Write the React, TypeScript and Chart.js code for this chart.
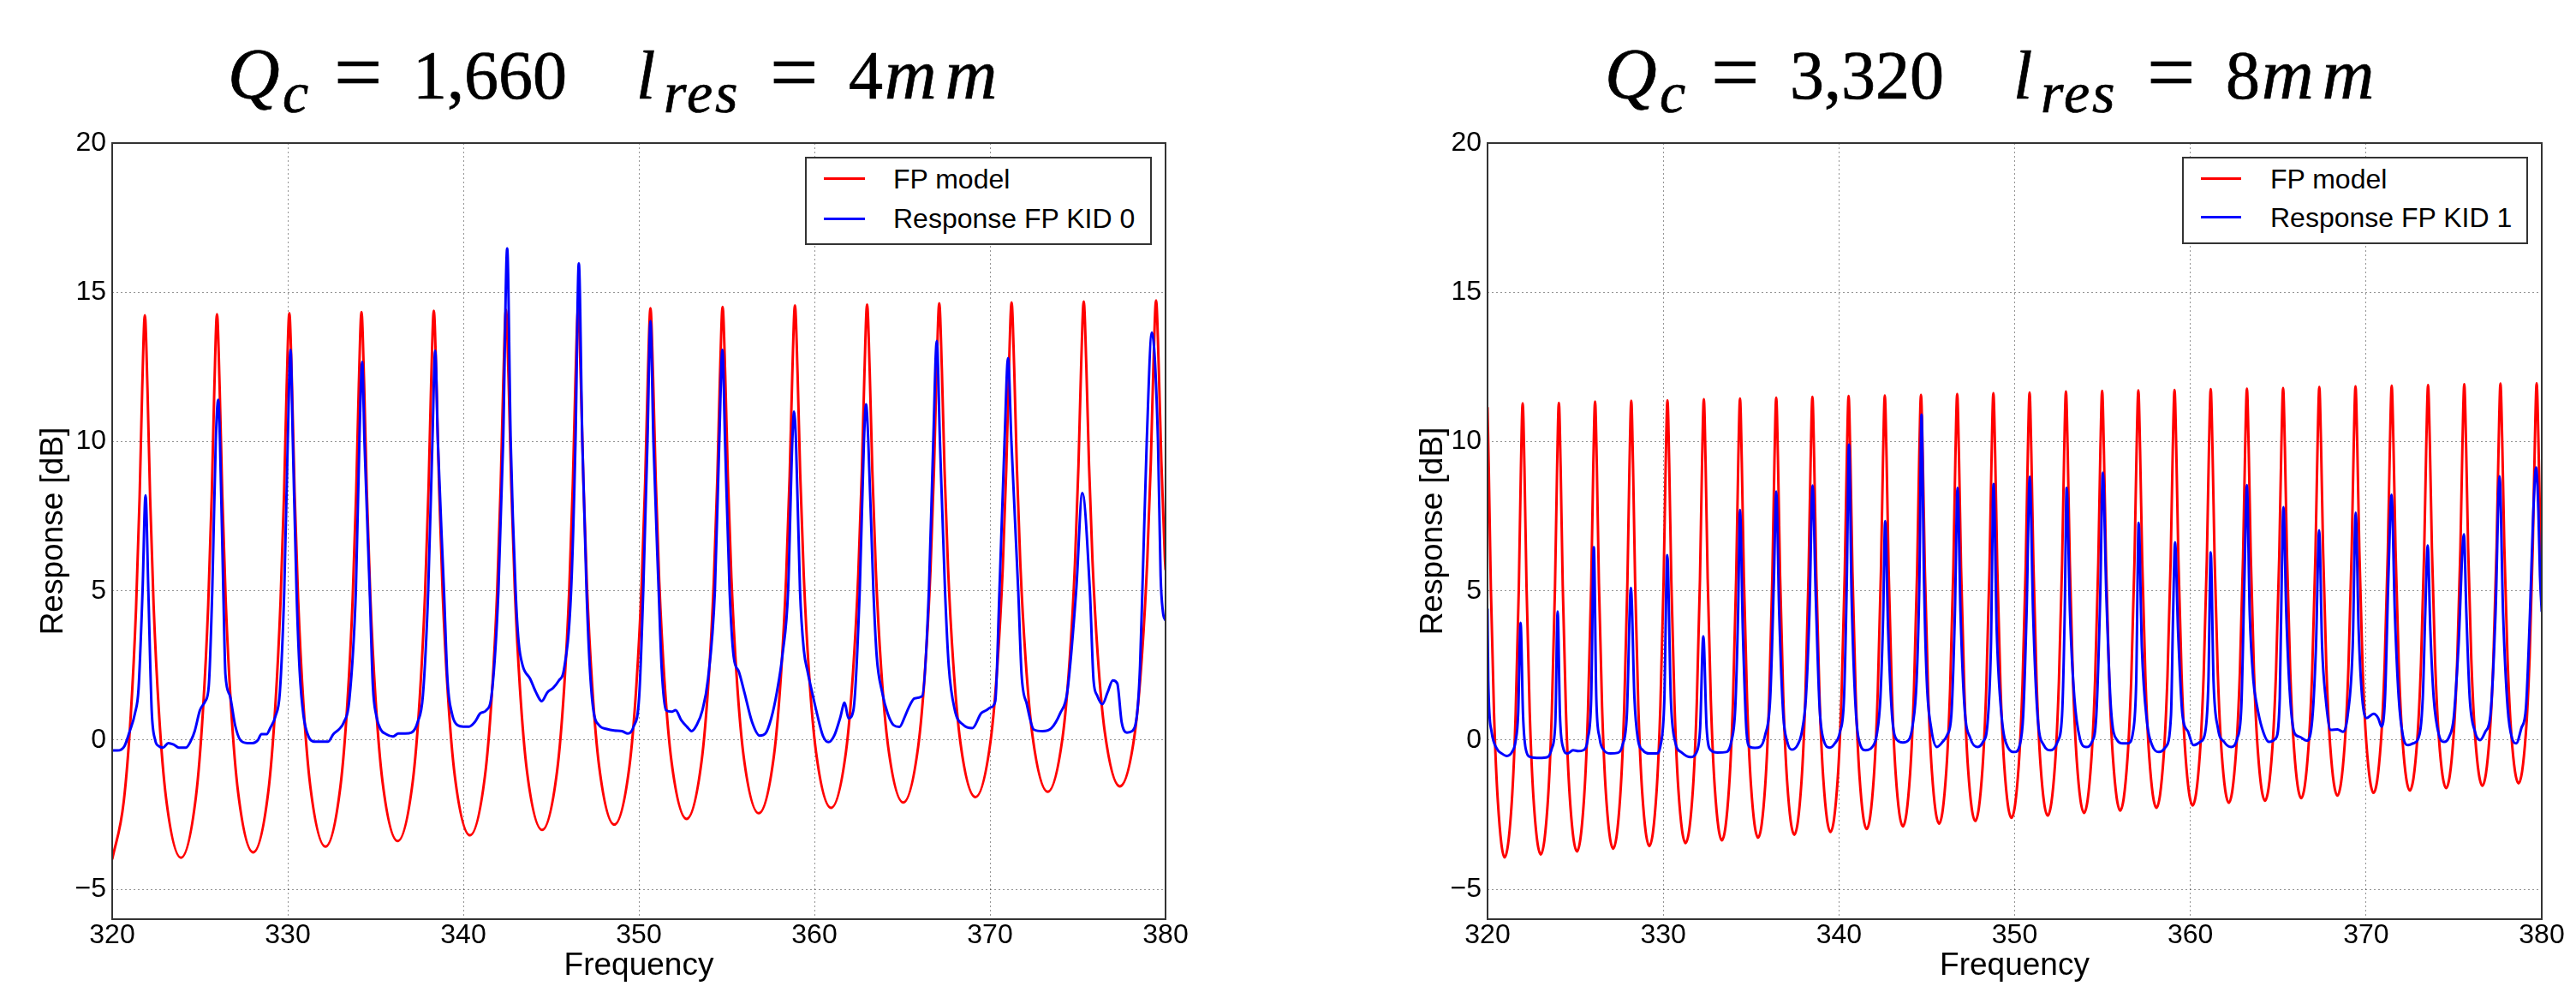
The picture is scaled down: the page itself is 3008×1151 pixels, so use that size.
import React, { useEffect, useRef } from 'react';
import { Chart, registerables } from 'chart.js';

Chart.register(...registerables);

// ---------------- data ----------------
const xTickValues = [320, 330, 340, 350, 360, 370, 380];
const yTickValues = [-5, 0, 5, 10, 15, 20];
const xAxisTitle = 'Frequency';
const yAxisTitle = 'Response [dB]';
const legendLabelsLeft = ['FP model', 'Response FP KID 0'];
const legendLabelsRight = ['FP model', 'Response FP KID 1'];
const titleLeft = { q: '1,660', l: '4' };
const titleRight = { q: '3,320', l: '8' };

// FP model, Q_c = 1,660 (left panel)
const fpModelLeft: number[][] = [
  [320.0, -4.0],
  [320.66, -2.05], [321.06, 0.85], [321.36, 4.42], [321.56, 8.09], [321.71, 11.76], [321.86, 14.23], [322.01, 11.78], [322.16, 8.14], [322.36, 4.51], [322.66, 0.97], [323.06, -1.9], [323.92, -3.94],
  [324.77, -1.9], [325.17, 0.98], [325.47, 4.53], [325.67, 8.17], [325.82, 11.81], [325.97, 14.27], [326.12, 11.84], [326.27, 8.23], [326.47, 4.62], [326.77, 1.11], [327.17, -1.74], [328.03, -3.76],
  [328.89, -1.74], [329.29, 1.12], [329.59, 4.64], [329.79, 8.25], [329.94, 11.86], [330.09, 14.3], [330.24, 11.89], [330.39, 8.31], [330.59, 4.74], [330.89, 1.25], [331.29, -1.57], [332.15, -3.57],
  [333.0, -1.56], [333.4, 1.27], [333.7, 4.76], [333.9, 8.34], [334.05, 11.92], [334.2, 14.34], [334.35, 11.95], [334.5, 8.4], [334.7, 4.86], [335.0, 1.4], [335.4, -1.4], [336.26, -3.38],
  [337.12, -1.39], [337.52, 1.42], [337.82, 4.88], [338.02, 8.43], [338.17, 11.98], [338.32, 14.38], [338.47, 12.01], [338.62, 8.49], [338.82, 4.98], [339.12, 1.55], [339.52, -1.22], [340.38, -3.19],
  [341.23, -1.22], [341.63, 1.56], [341.93, 5.0], [342.13, 8.52], [342.28, 12.04], [342.43, 14.42], [342.58, 12.07], [342.73, 8.58], [342.93, 5.09], [343.23, 1.7], [343.63, -1.06], [344.49, -3.01],
  [345.34, -1.05], [345.74, 1.7], [346.04, 5.11], [346.24, 8.6], [346.39, 12.09], [346.54, 14.45], [346.69, 12.12], [346.84, 8.66], [347.04, 5.21], [347.34, 1.84], [347.74, -0.89], [348.6, -2.83],
  [349.46, -0.89], [349.86, 1.84], [350.16, 5.21], [350.36, 8.67], [350.51, 12.13], [350.66, 14.47], [350.81, 12.16], [350.96, 8.74], [351.16, 5.32], [351.46, 1.98], [351.86, -0.72], [352.72, -2.64],
  [353.57, -0.72], [353.97, 1.99], [354.27, 5.33], [354.47, 8.76], [354.62, 12.19], [354.77, 14.51], [354.92, 12.22], [355.07, 8.83], [355.27, 5.44], [355.57, 2.13], [355.97, -0.55], [356.83, -2.45],
  [357.69, -0.54], [358.09, 2.14], [358.39, 5.46], [358.59, 8.86], [358.74, 12.26], [358.89, 14.56], [359.04, 12.29], [359.19, 8.92], [359.39, 5.56], [359.69, 2.27], [360.09, -0.39], [360.95, -2.27],
  [361.8, -0.38], [362.2, 2.28], [362.5, 5.57], [362.7, 8.94], [362.85, 12.31], [363.0, 14.59], [363.15, 12.34], [363.3, 9.0], [363.5, 5.67], [363.8, 2.41], [364.2, -0.22], [365.06, -2.09],
  [365.91, -0.22], [366.31, 2.42], [366.61, 5.68], [366.81, 9.03], [366.96, 12.37], [367.11, 14.63], [367.26, 12.4], [367.41, 9.09], [367.61, 5.78], [367.91, 2.56], [368.31, -0.06], [369.17, -1.91],
  [370.03, -0.05], [370.43, 2.56], [370.73, 5.8], [370.93, 9.11], [371.08, 12.42], [371.23, 14.66], [371.38, 12.45], [371.53, 9.17], [371.73, 5.89], [372.03, 2.7], [372.43, 0.11], [373.29, -1.73],
  [374.14, 0.11], [374.54, 2.7], [374.84, 5.91], [375.04, 9.19], [375.19, 12.47], [375.34, 14.69], [375.49, 12.5], [375.64, 9.25], [375.84, 6.0], [376.14, 2.83], [376.54, 0.27], [377.4, -1.55],
  [378.26, 0.27], [378.66, 2.85], [378.96, 6.02], [379.16, 9.28], [379.31, 12.53], [379.46, 14.73], [379.61, 12.56], [379.76, 9.34], [379.96, 6.12], [380.0, 5.7],
];

// Measured response, KID 0 (left panel)
const responseKid0: number[][] = [
  [320.0, -0.35], [320.3, -0.35], [320.7, -0.2], [321.0, 0.3], [321.3, 0.9], [321.5, 1.7], [321.73, 5.0], [321.9, 8.2], [322.06, 5.0], [322.25, 1.0],
  [322.45, 0.0], [322.65, -0.2], [322.9, -0.25], [323.2, -0.1], [323.5, -0.15], [323.8, -0.25], [324.2, -0.25], [324.5, 0.0], [324.7, 0.3], [325.0, 1.0],
  [325.3, 1.3], [325.5, 1.8], [325.7, 5.0], [325.9, 10.0], [326.04, 11.4], [326.14, 10.0], [326.33, 5.0], [326.45, 2.2], [326.7, 1.5], [327.0, 0.5],
  [327.3, 0.0], [327.7, -0.1], [328.0, -0.1], [328.3, 0.0], [328.5, 0.2], [328.8, 0.2], [329.0, 0.4], [329.3, 0.8], [329.55, 1.6], [329.8, 5.0],
  [330.0, 10.0], [330.16, 13.08], [330.29, 10.0], [330.5, 5.0], [330.68, 2.3], [330.9, 0.8], [331.2, 0.1], [331.5, -0.05], [331.9, -0.05], [332.3, -0.05],
  [332.6, 0.2], [332.9, 0.35], [333.2, 0.6], [333.5, 1.3], [333.88, 5.0], [334.08, 10.0], [334.24, 12.67], [334.37, 10.0], [334.67, 5.0], [334.85, 1.8],
  [335.05, 0.8], [335.3, 0.35], [335.6, 0.2], [336.0, 0.12], [336.3, 0.22], [336.7, 0.22], [337.05, 0.25], [337.4, 0.6], [337.7, 1.5], [338.0, 5.0],
  [338.24, 10.0], [338.4, 13.05], [338.55, 10.0], [338.9, 5.0], [339.1, 2.0], [339.35, 0.9], [339.67, 0.5], [340.0, 0.45], [340.33, 0.45], [340.65, 0.6],
  [340.98, 0.9], [341.31, 1.0], [341.63, 1.6], [342.0, 5.0], [342.27, 10.0], [342.5, 16.47], [342.7, 10.0], [342.98, 5.0], [343.15, 3.3], [343.38, 2.5],
  [343.81, 2.05], [344.14, 1.6], [344.47, 1.3], [344.79, 1.6], [345.12, 1.75], [345.45, 2.0], [345.73, 2.35], [346.14, 5.0], [346.39, 10.0], [346.58, 15.97],
  [346.78, 10.0], [347.02, 5.0], [347.2, 2.5], [347.41, 1.0], [347.73, 0.5], [348.17, 0.37], [348.6, 0.32], [349.04, 0.3], [349.37, 0.22], [349.69, 0.44],
  [350.02, 1.47], [350.25, 5.0], [350.49, 10.0], [350.66, 14.04], [350.83, 10.0], [351.13, 5.0], [351.3, 2.4], [351.55, 1.0], [351.87, 0.95], [352.09, 1.0],
  [352.42, 0.66], [352.75, 0.44], [353.0, 0.3], [353.29, 0.5], [353.62, 1.0], [353.94, 2.05], [354.33, 5.0], [354.58, 10.0], [354.76, 13.08], [354.91, 10.0],
  [355.17, 5.0], [355.4, 2.8], [355.69, 2.3], [356.01, 1.6], [356.45, 0.6], [356.88, 0.15], [357.21, 0.22], [357.54, 0.73], [357.86, 1.6], [358.19, 2.9],
  [358.5, 5.0], [358.74, 10.0], [358.84, 11.0], [358.95, 10.0], [359.18, 5.0], [359.4, 3.0], [359.61, 2.3], [359.83, 1.7], [360.15, 0.88], [360.48, 0.15],
  [360.8, -0.07], [361.13, 0.15], [361.46, 0.73], [361.72, 1.25], [361.94, 0.73], [362.22, 1.0], [362.58, 5.0], [362.82, 10.0], [362.94, 11.25], [363.07, 10.0],
  [363.36, 5.0], [363.55, 2.8], [363.86, 1.6], [364.18, 0.88], [364.51, 0.5], [364.84, 0.44], [365.16, 0.8], [365.38, 1.1], [365.71, 1.4], [366.14, 1.47],
  [366.52, 5.0], [366.77, 10.0], [366.97, 13.37], [367.15, 10.0], [367.44, 5.0], [367.65, 2.5], [368.0, 1.0], [368.5, 0.5], [369.0, 0.4], [369.5, 0.9],
  [369.8, 1.0], [370.05, 1.1], [370.3, 1.3], [370.54, 5.0], [370.83, 10.0], [371.03, 12.8], [371.22, 10.0], [371.61, 5.0], [371.8, 2.2], [372.1, 1.2],
  [372.5, 0.35], [373.0, 0.3], [373.5, 0.4], [374.0, 0.9], [374.4, 1.6], [374.91, 5.0], [375.26, 8.28], [375.69, 5.0], [375.9, 2.0], [376.1, 1.5],
  [376.4, 1.2], [376.7, 1.6], [377.0, 2.0], [377.25, 1.9], [377.5, 0.6], [377.8, 0.25], [378.1, 0.3], [378.4, 1.0], [378.55, 2.5], [378.68, 5.0],
  [378.93, 10.0], [379.22, 13.65], [379.57, 10.0], [379.72, 5.5], [379.85, 4.3], [380.0, 4.0],
];

// FP model, Q_c = 3,320 (right panel)
const fpModelRight: number[][] = [
  [320.0, 11.15], [320.07, 9.08], [320.19, 5.07], [320.37, 0.87], [320.59, -2.08], [320.97, -3.93],
  [321.38, -2.07], [321.6, 0.88], [321.78, 5.09], [321.9, 9.1], [322.0, 11.28], [322.1, 9.12], [322.22, 5.13], [322.4, 0.94], [322.62, -1.99], [323.03, -3.83],
  [323.44, -1.98], [323.66, 0.95], [323.84, 5.14], [323.96, 9.14], [324.06, 11.3], [324.16, 9.15], [324.28, 5.18], [324.46, 1.02], [324.68, -1.9], [325.09, -3.73],
  [325.5, -1.89], [325.72, 1.03], [325.9, 5.21], [326.02, 9.19], [326.12, 11.34], [326.22, 9.2], [326.34, 5.24], [326.52, 1.09], [326.74, -1.81], [327.15, -3.64],
  [327.56, -1.81], [327.78, 1.1], [327.96, 5.26], [328.08, 9.22], [328.18, 11.37], [328.28, 9.24], [328.4, 5.3], [328.58, 1.16], [328.8, -1.73], [329.21, -3.55],
  [329.62, -1.73], [329.84, 1.17], [330.02, 5.3], [330.14, 9.25], [330.24, 11.38], [330.34, 9.26], [330.46, 5.34], [330.64, 1.24], [330.86, -1.64], [331.27, -3.45],
  [331.69, -1.64], [331.91, 1.25], [332.09, 5.37], [332.21, 9.29], [332.31, 11.42], [332.41, 9.31], [332.53, 5.4], [332.71, 1.31], [332.93, -1.56], [333.34, -3.36],
  [333.75, -1.55], [333.97, 1.32], [334.15, 5.42], [334.27, 9.32], [334.37, 11.44], [334.47, 9.34], [334.59, 5.45], [334.77, 1.38], [334.99, -1.48], [335.4, -3.27],
  [335.81, -1.47], [336.03, 1.39], [336.21, 5.47], [336.33, 9.36], [336.43, 11.47], [336.53, 9.38], [336.65, 5.51], [336.83, 1.46], [337.05, -1.38], [337.46, -3.17],
  [337.87, -1.38], [338.09, 1.47], [338.27, 5.53], [338.39, 9.4], [338.49, 11.5], [338.59, 9.42], [338.71, 5.57], [338.89, 1.53], [339.11, -1.3], [339.52, -3.08],
  [339.93, -1.3], [340.15, 1.54], [340.33, 5.58], [340.45, 9.44], [340.55, 11.53], [340.65, 9.46], [340.77, 5.62], [340.95, 1.61], [341.17, -1.21], [341.58, -2.98],
  [341.99, -1.21], [342.21, 1.61], [342.39, 5.63], [342.51, 9.46], [342.61, 11.54], [342.71, 9.48], [342.83, 5.67], [343.01, 1.67], [343.23, -1.13], [343.64, -2.89],
  [344.05, -1.13], [344.27, 1.68], [344.45, 5.68], [344.57, 9.49], [344.67, 11.56], [344.77, 9.51], [344.89, 5.72], [345.07, 1.74], [345.29, -1.05], [345.7, -2.8],
  [346.11, -1.04], [346.33, 1.75], [346.51, 5.73], [346.63, 9.53], [346.73, 11.59], [346.83, 9.55], [346.95, 5.77], [347.13, 1.81], [347.35, -0.97], [347.76, -2.71],
  [348.17, -0.96], [348.39, 1.82], [348.57, 5.79], [348.69, 9.57], [348.79, 11.62], [348.89, 9.59], [349.01, 5.83], [349.19, 1.89], [349.41, -0.87], [349.82, -2.61],
  [350.23, -0.87], [350.45, 1.89], [350.63, 5.84], [350.75, 9.6], [350.85, 11.64], [350.95, 9.61], [351.07, 5.87], [351.25, 1.95], [351.47, -0.8], [351.88, -2.53],
  [352.3, -0.8], [352.52, 1.96], [352.7, 5.9], [352.82, 9.65], [352.92, 11.68], [353.02, 9.66], [353.14, 5.93], [353.32, 2.02], [353.54, -0.72], [353.95, -2.44],
  [354.36, -0.71], [354.58, 2.03], [354.76, 5.94], [354.88, 9.68], [354.98, 11.7], [355.08, 9.69], [355.2, 5.98], [355.38, 2.08], [355.6, -0.64], [356.01, -2.36],
  [356.42, -0.64], [356.64, 2.09], [356.82, 5.98], [356.94, 9.7], [357.04, 11.71], [357.14, 9.71], [357.26, 6.02], [357.44, 2.15], [357.66, -0.56], [358.07, -2.27],
  [358.48, -0.56], [358.7, 2.15], [358.88, 6.03], [359.0, 9.73], [359.1, 11.73], [359.2, 9.74], [359.32, 6.06], [359.5, 2.21], [359.72, -0.49], [360.13, -2.19],
  [360.54, -0.49], [360.76, 2.22], [360.94, 6.08], [361.06, 9.77], [361.16, 11.76], [361.26, 9.78], [361.38, 6.12], [361.56, 2.28], [361.78, -0.41], [362.19, -2.1],
  [362.6, -0.41], [362.82, 2.28], [363.0, 6.12], [363.12, 9.79], [363.22, 11.77], [363.32, 9.8], [363.44, 6.15], [363.62, 2.33], [363.84, -0.35], [364.25, -2.03],
  [364.66, -0.34], [364.88, 2.34], [365.06, 6.17], [365.18, 9.81], [365.28, 11.79], [365.38, 9.83], [365.5, 6.2], [365.68, 2.39], [365.9, -0.27], [366.31, -1.95],
  [366.72, -0.27], [366.94, 2.4], [367.12, 6.22], [367.24, 9.86], [367.34, 11.83], [367.44, 9.87], [367.56, 6.26], [367.74, 2.47], [367.96, -0.19], [368.37, -1.86],
  [368.78, -0.19], [369.0, 2.47], [369.18, 6.27], [369.3, 9.89], [369.4, 11.85], [369.5, 9.9], [369.62, 6.31], [369.8, 2.53], [370.02, -0.11], [370.43, -1.77],
  [370.84, -0.11], [371.06, 2.54], [371.24, 6.32], [371.36, 9.92], [371.46, 11.87], [371.56, 9.93], [371.68, 6.35], [371.86, 2.59], [372.08, -0.04], [372.49, -1.69],
  [372.91, -0.03], [373.13, 2.6], [373.31, 6.36], [373.43, 9.95], [373.53, 11.89], [373.63, 9.96], [373.75, 6.4], [373.93, 2.66], [374.15, 0.04], [374.56, -1.61],
  [374.97, 0.04], [375.19, 2.67], [375.37, 6.41], [375.49, 9.99], [375.59, 11.92], [375.69, 10.0], [375.81, 6.45], [375.99, 2.72], [376.21, 0.11], [376.62, -1.53],
  [377.03, 0.11], [377.25, 2.73], [377.43, 6.46], [377.55, 10.01], [377.65, 11.94], [377.75, 10.03], [377.87, 6.49], [378.05, 2.78], [378.27, 0.18], [378.68, -1.45],
  [379.09, 0.18], [379.31, 2.78], [379.49, 6.5], [379.61, 10.03], [379.71, 11.95], [379.81, 10.05], [379.93, 6.53], [380.0, 5.0],
];

// Measured response, KID 1 (right panel)
const responseKid1: number[][] = [
  [320.0, 4.4], [320.04, 2.0], [320.23, 0.28], [320.52, -0.28], [320.81, -0.45], [321.1, -0.53], [321.39, -0.4], [321.59, -0.06], [321.74, 0.85], [321.88, 3.93],
  [322.02, 0.85], [322.17, -0.28], [322.46, -0.57], [322.94, -0.6], [323.42, -0.57], [323.66, -0.28], [323.86, 0.62], [323.99, 4.31], [324.12, 0.85], [324.29, -0.23],
  [324.55, -0.45], [324.87, -0.34], [325.16, -0.37], [325.45, -0.34], [325.71, 0.06], [325.9, 1.42], [326.05, 6.46], [326.19, 1.42], [326.38, 0.06], [326.62, -0.34],
  [327.0, -0.45], [327.39, -0.43], [327.68, -0.17], [327.93, 0.85], [328.16, 5.1], [328.36, 1.42], [328.55, 0.06], [328.84, -0.34], [329.23, -0.45], [329.61, -0.45],
  [329.85, -0.17], [330.06, 1.3], [330.23, 6.2], [330.43, 1.42], [330.68, -0.06], [331.06, -0.42], [331.55, -0.57], [331.9, -0.4], [332.1, 0.4], [332.28, 3.48],
  [332.47, 0.4], [332.71, -0.34], [333.09, -0.42], [333.58, -0.4], [333.87, -0.06], [334.1, 1.08], [334.26, 4.25], [334.37, 7.71], [334.53, 3.68], [334.74, 0.28],
  [334.93, -0.23], [335.22, -0.26], [335.51, -0.23], [335.8, 0.17], [336.09, 1.42], [336.3, 5.4], [336.43, 8.33], [336.6, 4.25], [336.83, 0.85], [337.06, -0.06],
  [337.31, -0.32], [337.64, -0.17], [337.89, 0.28], [338.12, 1.42], [338.32, 4.25], [338.5, 8.53], [338.68, 4.82], [338.9, 1.08], [339.13, 0.0], [339.48, -0.25],
  [339.77, -0.11], [340.06, 0.28], [340.29, 1.42], [340.45, 5.4], [340.57, 9.9], [340.72, 4.82], [340.95, 1.08], [341.22, -0.17], [341.51, -0.34], [341.9, -0.23],
  [342.15, 0.17], [342.36, 1.42], [342.52, 4.25], [342.63, 7.34], [342.8, 3.68], [343.02, 0.85], [343.31, 0.0], [343.64, -0.08], [343.97, 0.0], [344.2, 0.51],
  [344.42, 1.98], [344.58, 5.39], [344.7, 10.9], [344.84, 5.39], [345.0, 1.98], [345.25, 0.4], [345.58, -0.23], [345.9, -0.06], [346.16, 0.17], [346.4, 0.85],
  [346.6, 4.25], [346.75, 8.45], [346.92, 4.25], [347.15, 1.08], [347.48, 0.06], [347.9, -0.23], [348.2, -0.06], [348.45, 0.51], [348.65, 3.12], [348.8, 8.58],
  [348.98, 3.68], [349.25, 0.85], [349.6, -0.23], [350.0, -0.4], [350.29, -0.17], [350.49, 0.85], [350.68, 4.25], [350.86, 8.82], [351.05, 4.25], [351.3, 0.85],
  [351.66, -0.17], [352.05, -0.34], [352.44, -0.06], [352.7, 0.85], [352.85, 4.25], [352.96, 8.45], [353.15, 4.25], [353.4, 1.42], [353.71, 0.06], [354.07, -0.23],
  [354.4, -0.06], [354.65, 0.85], [354.87, 4.82], [355.02, 8.96], [355.22, 4.82], [355.48, 1.08], [355.83, 0.0], [356.16, -0.11], [356.45, -0.11], [356.74, 0.28],
  [356.92, 1.98], [357.06, 7.28], [357.24, 3.12], [357.53, 0.62], [357.82, -0.17], [358.21, -0.4], [358.6, -0.23], [358.9, 0.85], [359.02, 4.25], [359.13, 6.63],
  [359.3, 3.68], [359.55, 0.85], [359.87, 0.28], [360.17, -0.17], [360.56, -0.06], [360.85, 0.28], [361.03, 1.98], [361.16, 6.29], [361.32, 1.98], [361.57, 0.4],
  [361.92, -0.06], [362.32, -0.23], [362.67, 0.06], [362.9, 1.08], [363.08, 5.39], [363.22, 8.54], [363.38, 4.25], [363.59, 1.98], [363.78, 1.19], [364.08, 0.4],
  [364.47, -0.06], [364.86, 0.06], [365.09, 1.42], [365.2, 5.39], [365.3, 7.8], [365.46, 4.25], [365.68, 1.42], [365.93, 0.23], [366.22, 0.11], [366.62, -0.02],
  [366.91, 0.51], [367.15, 3.12], [367.33, 7.03], [367.5, 3.12], [367.7, 1.42], [367.99, 0.34], [368.38, 0.36], [368.68, 0.28], [368.96, 0.85], [369.24, 3.12],
  [369.41, 7.62], [369.58, 3.68], [369.78, 1.42], [370.04, 0.74], [370.43, 0.88], [370.69, 0.74], [370.88, 0.45], [371.08, 1.42], [371.27, 5.39], [371.45, 8.22],
  [371.64, 4.25], [371.86, 1.42], [372.09, 0.17], [372.39, -0.17], [372.68, -0.11], [372.98, 0.06], [373.23, 1.42], [373.37, 4.25], [373.51, 6.52], [373.66, 3.68],
  [373.85, 1.42], [374.15, 0.17], [374.44, -0.06], [374.73, 0.11], [374.99, 0.74], [375.26, 3.12], [375.57, 6.89], [375.71, 4.25], [375.9, 1.42], [376.2, 0.28],
  [376.49, 0.0], [376.79, 0.28], [377.08, 0.85], [377.37, 4.25], [377.6, 8.84], [377.8, 4.25], [378.06, 1.08], [378.31, 0.06], [378.55, -0.11], [378.84, 0.4],
  [379.1, 1.08], [379.33, 4.25], [379.52, 7.65], [379.68, 9.13], [379.81, 7.65], [379.9, 5.5], [380.0, 4.3],
];

// ---------------- presentation ----------------
const SANS = "'Liberation Sans', Arial, Helvetica, sans-serif";
const SERIF = "'Liberation Serif', 'Times New Roman', serif";
const RED = '#ff0000';
const BLUE = '#0000ff';

const framePlugin = {
  id: 'axesFrame',
  afterDraw(chart: any) {
    const { ctx, chartArea } = chart;
    const { left, top, right, bottom } = chartArea;
    ctx.save();
    ctx.strokeStyle = '#333333';
    ctx.lineWidth = 2;
    ctx.strokeRect(left, top, right - left, bottom - top);
    ctx.restore();
  },
};

type PanelProps = {
  left: number;
  width: number;
  yAxisWidth: number;
  padRight: number;
  yTitlePad: number;
  red: number[][];
  blue: number[][];
  labels: string[];
};

function Panel({ left, width, yAxisWidth, padRight, yTitlePad, red, blue, labels }: PanelProps) {
  const ref = useRef<HTMLCanvasElement | null>(null);
  useEffect(() => {
    if (!ref.current) return;
    const gridOpts = { color: 'rgba(0,0,0,0.42)', lineWidth: 1, drawTicks: false };
    const borderOpts = { display: false, dash: [2, 3] };
    const chart = new Chart(ref.current, {
      type: 'line',
      data: {
        datasets: [
          {
            label: labels[1],
            data: blue.map(([x, y]) => ({ x, y })),
            borderColor: BLUE,
            backgroundColor: BLUE,
            borderWidth: 3,
            pointRadius: 0,
            fill: false,
            cubicInterpolationMode: 'monotone',
            order: 1,
          },
          {
            label: labels[0],
            data: red.map(([x, y]) => ({ x, y })),
            borderColor: RED,
            backgroundColor: RED,
            borderWidth: 3,
            pointRadius: 0,
            fill: false,
            cubicInterpolationMode: 'monotone',
            order: 2,
          },
        ],
      } as any,
      options: {
        responsive: false,
        animation: false,
        devicePixelRatio: 1,
        events: [],
        layout: { padding: { top: 27, right: padRight, left: 0, bottom: 0 } },
        plugins: {
          legend: { display: false },
          tooltip: { enabled: false },
          title: { display: false },
        },
        scales: {
          x: {
            type: 'linear',
            min: 320,
            max: 380,
            afterBuildTicks: (axis: any) => {
              axis.ticks = xTickValues.map((v) => ({ value: v }));
            },
            afterFit: (scale: any) => {
              scale.height = 78;
              scale.paddingLeft = 0;
              scale.paddingRight = 0;
            },
            grid: gridOpts,
            border: borderOpts,
            ticks: {
              color: '#000',
              font: { family: SANS, size: 32 },
              padding: 0,
              maxRotation: 0,
              autoSkip: false,
              callback: (v: any) => String(v),
            },
            title: {
              display: true,
              text: xAxisTitle,
              color: '#000',
              font: { family: SANS, size: 37 },
              padding: { top: 0, bottom: 1 },
            },
          },
          y: {
            type: 'linear',
            min: -6,
            max: 20,
            afterBuildTicks: (axis: any) => {
              axis.ticks = yTickValues.map((v) => ({ value: v }));
            },
            afterFit: (scale: any) => {
              scale.width = yAxisWidth;
              scale.paddingTop = 0;
              scale.paddingBottom = 0;
            },
            grid: gridOpts,
            border: borderOpts,
            ticks: {
              color: '#000',
              font: { family: SANS, size: 32 },
              padding: 7,
              callback: (v: any) => (Number(v) < 0 ? '\u2212' + Math.abs(Number(v)) : String(v)),
            },
            title: {
              display: true,
              text: yAxisTitle,
              color: '#000',
              font: { family: SANS, size: 37 },
              padding: { top: yTitlePad, bottom: 0 },
            },
          },
        },
      } as any,
      plugins: [framePlugin],
    });
    return () => chart.destroy();
  }, []);
  return (
    <canvas
      ref={ref}
      width={width}
      height={1011}
      style={{ position: 'absolute', left, top: 140, width, height: 1011 }}
    />
  );
}

type LegendProps = { box: [number, number, number, number]; lineX: [number, number]; textX: number; rowY: [number, number]; labels: string[] };

function Legend({ box, lineX, textX, rowY, labels }: LegendProps) {
  const [bx, by, bw, bh] = box;
  const colors = [RED, BLUE];
  return (
    <>
      <div
        style={{
          position: 'absolute', left: bx, top: by, width: bw, height: bh,
          border: '2px solid #333', boxSizing: 'border-box', background: '#fff',
        }}
      />
      {labels.map((lab, i) => (
        <React.Fragment key={lab}>
          <div
            style={{
              position: 'absolute', left: lineX[0], width: lineX[1] - lineX[0], top: rowY[i] - 1.5, height: 3,
              background: colors[i],
            }}
          />
          <div
            style={{
              position: 'absolute', left: textX, top: rowY[i] - 15.6, fontFamily: SANS, fontSize: 32,
              lineHeight: '32px', whiteSpace: 'nowrap', color: '#000',
            }}
          >
            {lab}
          </div>
        </React.Fragment>
      ))}
    </>
  );
}

type TitlePart = { text: string; x: number; italic?: boolean; sub?: boolean; spacing?: number; size?: number; base?: number };

function Title({ parts }: { parts: TitlePart[] }) {
  return (
    <>
      {parts.map((p, i) => {
        const size = p.size ?? (p.sub ? 68 : 80);
        const baseline = p.base ?? (p.sub ? 131 : 115);
        return (
          <span
            key={i}
            style={{
              position: 'absolute', left: p.x, top: baseline - 0.8375 * size, fontFamily: SERIF, fontSize: size,
              lineHeight: size + 'px', fontStyle: p.italic ? 'italic' : 'normal', whiteSpace: 'nowrap', color: '#000',
              letterSpacing: p.spacing ? p.spacing + 'px' : undefined,
              WebkitTextStroke: '0.7px #000',
            }}
          >
            {p.text}
          </span>
        );
      })}
    </>
  );
}

function titleParts(t: { q: string; l: string }, dx: number): TitlePart[] {
  return [
    { text: 'Q', x: 266 + dx, italic: true, size: 84 },
    { text: 'c', x: 330 + dx, italic: true, sub: true },
    { text: '=', x: 390 + dx, size: 100, base: 119 },
    { text: t.q, x: 482 + dx },
    { text: 'l', x: 743 + dx, italic: true },
    { text: 'res', x: 775 + dx, italic: true, sub: true, spacing: 3 },
    { text: '=', x: 899 + dx, size: 100, base: 119 },
    { text: t.l, x: 991 + dx },
    { text: 'mm', x: 1033 + dx, italic: true, spacing: 10, size: 84 },
  ];
}

export default function App() {
  return (
    <div
      style={{
        position: 'absolute', left: 0, top: 0, width: 3008, height: 1151, background: '#fff', overflow: 'hidden',
      }}
    >
      <Panel left={0} width={1400} yAxisWidth={131} padRight={39} yTitlePad={41} red={fpModelLeft} blue={responseKid0} labels={legendLabelsLeft} />
      <Panel left={1500} width={1508} yAxisWidth={237} padRight={40} yTitlePad={152} red={fpModelRight} blue={responseKid1} labels={legendLabelsRight} />
      <Title parts={titleParts(titleLeft, 0)} />
      <Title parts={titleParts(titleRight, 1608)} />
      <Legend box={[940, 183, 405, 103]} lineX={[962, 1010]} textX={1043} rowY={[208.7, 255]} labels={legendLabelsLeft} />
      <Legend box={[2548, 183, 404, 102]} lineX={[2570, 2617]} textX={2651} rowY={[208.3, 253.8]} labels={legendLabelsRight} />
    </div>
  );
}
